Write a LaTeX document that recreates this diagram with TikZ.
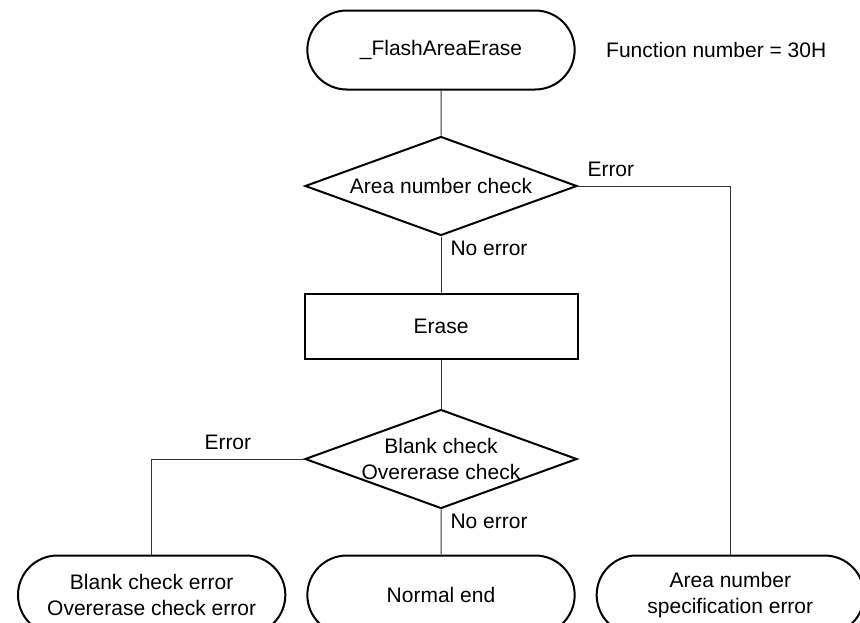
\documentclass[tikz,border=0pt]{standalone}
\usepackage{fontspec}
\setmainfont{Liberation Sans}
\usetikzlibrary{positioning,shapes.geometric,shapes.misc}
\tikzset{term/.style={draw,line width=2pt,rounded rectangle,minimum width=274pt,minimum height=79pt,align=center,font=\fontsize{21pt}{26pt}\selectfont},decision/.style={draw,line width=2pt,diamond,aspect=2.75,inner xsep=-15pt,inner ysep=0pt,minimum width=272pt,minimum height=99pt,align=center,font=\fontsize{21pt}{26pt}\selectfont},process/.style={draw,line width=2pt,minimum width=273pt,minimum height=65pt,font=\fontsize{21pt}{26pt}\selectfont},edge/.style={line width=1pt,black!80},lbl/.style={font=\fontsize{21pt}{25pt}\selectfont}}

\begin{document}
\begin{tikzpicture}[x=1pt,y=-1pt,node distance=45pt and 20pt]
\useasboundingbox (0,0) rectangle (860,622);
\clip (0,0) rectangle (860,622);
\node[term] (start) at (441,50) {\_FlashAreaErase};
\node[lbl,right=27pt of start] (fnum) {Function number = 30H};
\node[decision,below=of start] (areachk) {Area number check};
\node[process,below=56pt of areachk] (erase) {Erase};
\node[decision,below=49pt of erase] (blankchk) {Blank check\\Overerase check};
\node[term,below=of blankchk] (normal) {Normal end};
\node[term,left=of normal] (blankerr) {Blank check error\\Overerase check error};
\node[term,right=of normal] (areaerr) {Area number\\specification error};
\draw[edge] (start) -- (areachk);\draw[edge] (areachk) -- node[lbl,black,pos=0,below right,inner xsep=9pt,inner ysep=4pt]{No error} (erase);\draw[edge] (areachk.east) -| node[lbl,black,pos=0,above right,inner sep=9pt]{Error} (areaerr.north);
\draw[edge] (erase) -- (blankchk);\draw[edge] (blankchk) -- node[lbl,black,pos=0,below right,inner xsep=9pt,inner ysep=4pt]{No error} (normal);\draw[edge] (blankchk.west) -| node[lbl,black,pos=.25,above,inner sep=9pt]{Error} (blankerr.north);
\end{tikzpicture}
\end{document}
